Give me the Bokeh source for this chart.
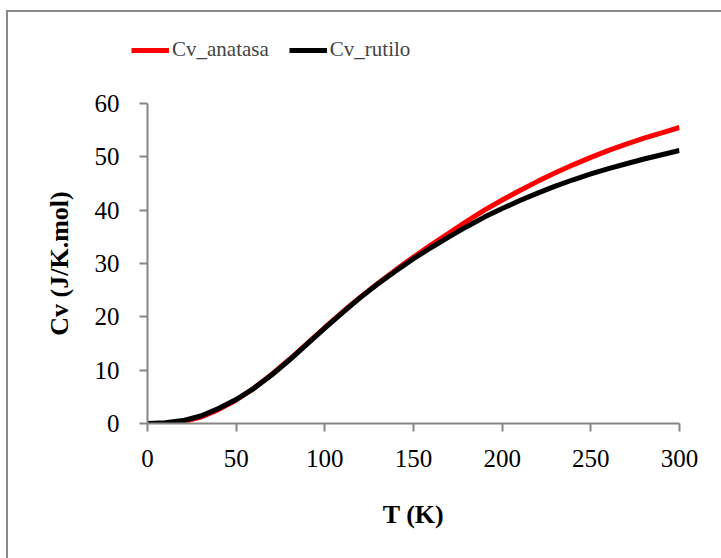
from bokeh.plotting import figure
from bokeh.layouts import column
from bokeh.models import Range1d, FixedTicker, Legend, LegendItem
from bokeh.embed import file_html
from bokeh.resources import INLINE

T = [0, 10, 20, 30, 40, 50, 60, 70, 80, 90, 100, 110, 120, 130, 140, 150,
     160, 170, 180, 190, 200, 210, 220, 230, 240, 250, 260, 270, 280, 290, 300]
cv_anatasa = [0.0, 0.05, 0.35, 1.2, 2.6, 4.4, 6.6, 9.2, 12.0, 15.0, 18.0, 20.9,
              23.7, 26.3, 28.8, 31.2, 33.5, 35.7, 37.9, 40.0, 41.9, 43.7, 45.4,
              47.0, 48.5, 49.9, 51.2, 52.4, 53.5, 54.5, 55.5]
cv_rutilo = [0.0, 0.15, 0.55, 1.4, 2.8, 4.5, 6.6, 9.1, 11.9, 14.9, 17.9, 20.8,
             23.6, 26.2, 28.6, 30.9, 33.0, 35.0, 36.9, 38.7, 40.3, 41.8, 43.2,
             44.5, 45.7, 46.8, 47.8, 48.7, 49.6, 50.4, 51.2]
x_ticks = [0, 50, 100, 150, 200, 250, 300]
y_ticks = [0, 10, 20, 30, 40, 50, 60]
names = ["Cv_anatasa", "Cv_rutilo"]
x_title = "T (K)"
y_title = "Cv (J/K.mol)"

FONT = "Liberation Serif"
GRAY = "#868686"
RED = "#ff0000"
BLACK = "#000000"

# ---- main chart ----
p = figure(width=713, height=476, output_backend="svg", toolbar_location=None,
           x_range=Range1d(0, 300), y_range=Range1d(0, 60),
           min_border_left=139, min_border_right=42, min_border_top=21,
           min_border_bottom=135)
p.outline_line_color = None
p.xgrid.grid_line_color = None
p.ygrid.grid_line_color = None
p.background_fill_color = "white"
p.border_fill_color = "white"

p.line(T, cv_anatasa, line_color=RED, line_width=5)
p.line(T, cv_rutilo, line_color=BLACK, line_width=5)

p.xaxis[0].axis_label = x_title
p.yaxis[0].axis_label = y_title
p.xaxis[0].ticker = FixedTicker(ticks=x_ticks)
p.yaxis[0].ticker = FixedTicker(ticks=y_ticks)
for ax in (p.xaxis[0], p.yaxis[0]):
    ax.axis_line_color = GRAY
    ax.axis_line_width = 2
    ax.major_tick_line_color = GRAY
    ax.major_tick_line_width = 2
    ax.major_tick_in = 0
    ax.major_tick_out = 8
    ax.minor_tick_line_color = None
    ax.major_label_text_font = FONT
    ax.major_label_text_font_size = "25px"
    ax.major_label_text_color = "black"
    ax.axis_label_text_font = FONT
    ax.axis_label_text_font_size = "26px"
    ax.axis_label_text_font_style = "bold"
    ax.axis_label_text_color = "black"

p.xaxis[0].major_label_standoff = 18
p.yaxis[0].major_label_standoff = 20
p.xaxis[0].axis_label_standoff = 30
p.yaxis[0].axis_label_standoff = 18

# ---- legend strip (its own small figure, lines kept out of view) ----
lg = figure(width=713, height=70, output_backend="svg", toolbar_location=None,
            x_range=Range1d(0, 1), y_range=Range1d(-2, -1),
            min_border_left=0, min_border_right=0, min_border_top=0,
            min_border_bottom=0)
lg.axis.visible = False
lg.grid.visible = False
lg.outline_line_color = None
lg.background_fill_color = "white"
lg.border_fill_color = "white"
l1 = lg.line(T, cv_anatasa, line_color=RED, line_width=5)
l2 = lg.line(T, cv_rutilo, line_color=BLACK, line_width=5)

for fig in (lg, p):
    try:
        fig.frame_align = False
    except Exception:
        pass

legend = Legend(items=[LegendItem(label=names[0], renderers=[l1]),
                       LegendItem(label=names[1], renderers=[l2])],
                orientation="horizontal", location=(123, 20),
                label_text_font=FONT, label_text_font_size="21px",
                glyph_width=38, glyph_height=20, label_standoff=3,
                spacing=20, padding=0, margin=0,
                border_line_color=None, background_fill_alpha=0)
lg.add_layout(legend, "center")

layout = column(lg, p, spacing=0)
layout.margin = (10, 0, 0, 6)
layout.styles = {"border-left": "2px solid #898989", "border-top": "2px solid #898989"}

open("out.html", "w").write(file_html(layout, INLINE))
